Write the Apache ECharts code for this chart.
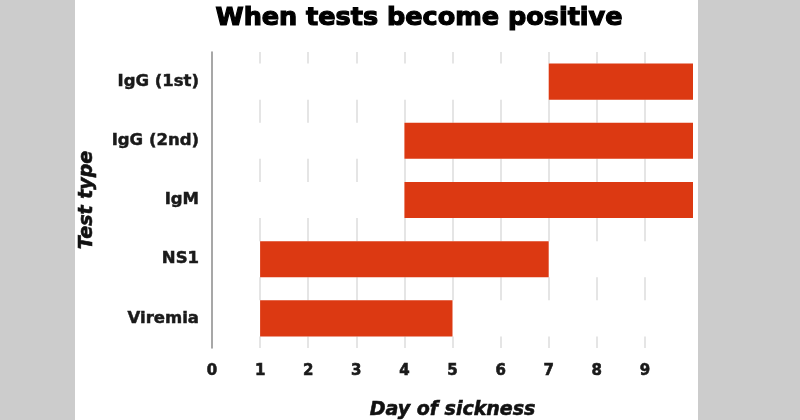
<!DOCTYPE html>
<html>
<head>
<meta charset="utf-8">
<script src="https://cdn.jsdelivr.net/npm/echarts@6/dist/echarts.min.js"></script>
<style>
  html, body { margin: 0; padding: 0; background: #cccccc; }
  #wrap { position: relative; width: 800px; height: 420px; overflow: hidden; }
  #panel { position: absolute; left: 75px; top: 0; width: 623px; height: 420px; background: #ffffff; }
  #chart { position: absolute; left: 0; top: 0; width: 800px; height: 420px; }
</style>
</head>
<body>
<div id="wrap">
  <div id="panel"></div>
  <div id="chart"></div>
</div>
<script>
const titleText = 'When tests become positive';
const categories = ['IgG (1st)', 'IgG (2nd)', 'IgM', 'NS1', 'Viremia'];
const startDay = [7, 4, 4, 1, 1];
const endDay = [10, 10, 10, 7, 5];
const xTicks = [0, 1, 2, 3, 4, 5, 6, 7, 8, 9, 10];
const xAxisTitle = 'Day of sickness';
const yAxisTitle = 'Test type';

const durations = endDay.map((e, i) => e - startDay[i]);
const FONT = 'DejaVu Sans';

const chart = echarts.init(document.getElementById('chart'), null, { renderer: 'canvas' });
chart.setOption({
  backgroundColor: 'transparent',
  animation: false,
  title: {
    text: titleText,
    left: 414,
    textAlign: 'center',
    top: 0,
    textStyle: { fontFamily: FONT, fontWeight: 'bold', fontSize: 25.5, color: '#000',
      textBorderColor: '#000', textBorderWidth: 1.2 }
  },
  grid: { left: 212, right: 107, top: 52, bottom: 72, containLabel: false, outerBoundsMode: 'none' },
  xAxis: {
    type: 'value',
    min: xTicks[0],
    max: xTicks[xTicks.length - 1],
    interval: 1,
    name: xAxisTitle,
    nameLocation: 'middle',
    nameGap: 53,
    nameTextStyle: { fontFamily: FONT, fontWeight: 'bold', fontStyle: 'italic', fontSize: 19, color: '#111',
      textBorderColor: '#111', textBorderWidth: 0.6 },
    axisLine: { show: false },
    axisTick: { show: false },
    axisLabel: {
      showMaxLabel: false,
      margin: 16,
      fontFamily: FONT, fontWeight: 'bold', fontSize: 15, color: '#1a1a1a',
      textBorderColor: '#1a1a1a', textBorderWidth: 0.6
    },
    splitLine: { show: true, showMinLine: false, showMaxLine: false, lineStyle: { color: '#dddddd', width: 1.5 } }
  },
  yAxis: {
    type: 'category',
    data: categories,
    inverse: true,
    z: 10,
    name: yAxisTitle,
    nameLocation: 'middle',
    nameGap: 115,
    nameTextStyle: { fontFamily: FONT, fontWeight: 'bold', fontStyle: 'italic', fontSize: 19, color: '#111',
      textBorderColor: '#111', textBorderWidth: 0.6 },
    axisLine: { show: true, lineStyle: { color: '#8a8a8a', width: 1.5 } },
    axisTick: { show: false },
    axisLabel: { margin: 13, fontFamily: FONT, fontWeight: 'bold', fontSize: 16.5, color: '#1a1a1a',
      textBorderColor: '#1a1a1a', textBorderWidth: 0.5 },
    splitLine: { show: false }
  },
  series: [
    {
      type: 'bar',
      stack: 'range',
      data: startDay,
      barWidth: '61%',
      itemStyle: { color: 'transparent' },
      silent: true
    },
    {
      type: 'bar',
      stack: 'range',
      data: durations,
      barWidth: '61%',
      showBackground: true,
      backgroundStyle: { color: '#ffffff' },
      itemStyle: { color: '#dc3912' }
    }
  ]
});
</script>
</body>
</html>
